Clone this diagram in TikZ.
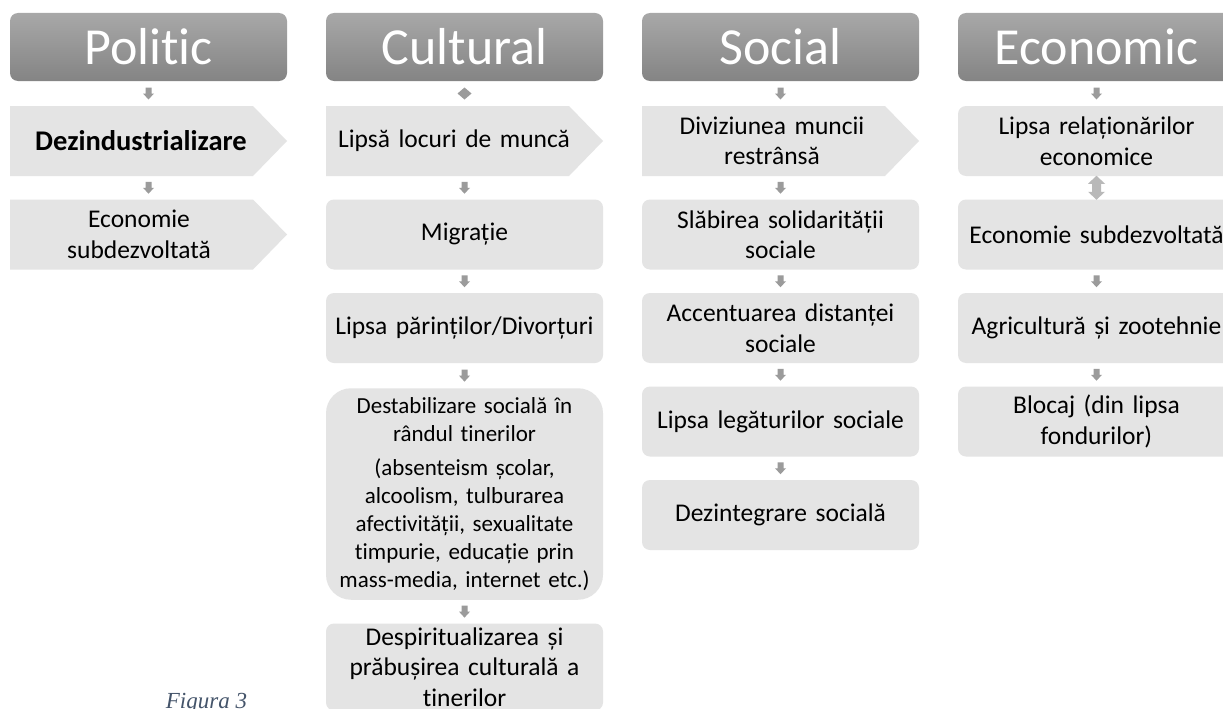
\documentclass[tikz,border=0pt]{standalone}
\usepackage{fontspec}
\setmainfont{Carlito}[RawFeature={-liga;-dlig;-clig;-calt}]
\newfontfamily\figfont{Liberation Serif}
\usetikzlibrary{calc}
\definecolor{boxgray}{RGB}{228,228,228}
\definecolor{hdtop}{RGB}{168,168,168}
\definecolor{hdbot}{RGB}{132,132,132}
\definecolor{arrgray}{RGB}{155,155,155}
\definecolor{arrlight}{RGB}{185,185,185}
\definecolor{figblue}{RGB}{68,84,106}
\tikzset{
 hdr/.style={rounded corners=8pt, top color=hdtop, bottom color=hdbot, text=white,
   font=\fontsize{52}{60}\selectfont, minimum width=277pt, minimum height=68pt, inner sep=0pt},
 rbox/.style={fill=boxgray, rounded corners=8pt, minimum width=277pt, minimum height=70pt,
   inner sep=0pt, text width=274pt, align=center, font=\fontsize{25.5}{30.5}\selectfont},
 ctxt/.style={minimum width=260pt, minimum height=70pt, inner sep=0pt, text width=258pt,
   align=center, font=\fontsize{25.5}{30.5}\selectfont},
 downarr/.pic={\fill[arrgray] (-3,-6) -- (3,-6) -- (3,0) -- (5.5,0) -- (0,6) -- (-5.5,0) -- (-3,0) -- cycle;},
 updownarr/.pic={\fill[arrlight] (0,-12) -- (8.5,-4) -- (4.5,-4) -- (4.5,4) -- (8.5,4) -- (0,12) -- (-8.5,4) -- (-4.5,4) -- (-4.5,-4) -- (-8.5,-4) -- cycle;},
 diamarr/.pic={\fill[arrgray] (0,-6) -- (7,0) -- (0,6) -- (-7,0) -- cycle;},
}
\newcommand\chevfill[2]{\fill[boxgray] (#1,#2) -- (#1+243,#2) -- (#1+277,#2+35) -- (#1+243,#2+70) -- (#1,#2+70) -- cycle;}
\newcommand\dn[3]{\path ($(#1.center |- #2.south)!0.5!(#1.center |- #3.north)$) pic {downarr};}
\newcommand\dnud[3]{\path ($(#1.center |- #2.south)!0.5!(#1.center |- #3.north)$) pic {updownarr};}
\newcommand\dndia[3]{\path ($(#1.center |- #2.south)!0.5!(#1.center |- #3.north)$) pic {diamarr};}
\begin{document}
\begin{tikzpicture}[x=1pt,y=-1pt]
\useasboundingbox (0,0) rectangle (1223,709);
\fill[white] (0,0) rectangle (1223,709);
\clip (0,0) rectangle (1223,709);

% headers
\node[hdr] (h1) at (148.5,47) {Politic};
\node[hdr] (h2) at (464.5,47) {Cultural};
\node[hdr] (h3) at (780.5,47) {Social};
\node[hdr] (h4) at (1096.5,47) {Economic};

% Politic
\chevfill{10}{106}
\node[ctxt, font=\fontsize{28.5}{33}\selectfont\bfseries] (p1) at (141,141) {Dezindustrializare};
\chevfill{10}{199.5}
\node[ctxt] (p2) at (139,234.5) {Economie\\subdezvoltată};

% Cultural
\chevfill{326}{106}
\node[ctxt] (c1) at (454,141) {Lipsă locuri de muncă};
\node[rbox] (c2) at (464.5,234.5) {Migrație};
\node[rbox] (c3) at (464.5,328) {Lipsa părinților/Divorțuri};
\node[rbox, minimum height=211.5pt, rounded corners=25pt, font=\fontsize{23}{28}\selectfont] (c4) at (464.5,494)
  {Destabilizare socială în\\rândul tinerilor\\[6pt](absenteism școlar,\\alcoolism, tulburarea\\afectivității, sexualitate\\timpurie, educație prin\\mass-media, internet etc.)};
\node[rbox, minimum height=87pt] (c5) at (464.5,667) {Despiritualizarea și\\prăbușirea culturală a\\tinerilor};

% Social
\chevfill{642}{106}
\node[ctxt] (s1) at (772,141) {Diviziunea muncii\\restrânsă};
\node[rbox] (s2) at (780.5,234.5) {Slăbirea solidarității\\sociale};
\node[rbox] (s3) at (780.5,328) {Accentuarea distanței\\sociale};
\node[rbox] (s4) at (780.5,421.5) {Lipsa legăturilor sociale};
\node[rbox] (s5) at (780.5,515) {Dezintegrare socială};

% Economic
\node[rbox] (e1) at (1096.5,141) {Lipsa relaționărilor\\economice};
\node[rbox] (e2) at (1096.5,234.5) {Economie subdezvoltată};
\node[rbox] (e3) at (1096.5,328) {Agricultură și zootehnie};
\node[rbox] (e4) at (1096.5,421.5) {Blocaj (din lipsa\\fondurilor)};

% connectors
\dn{h1}{h1}{p1}
\dn{h1}{p1}{p2}
\dndia{h2}{h2}{c1}
\dn{h2}{c1}{c2}
\dn{h2}{c2}{c3}
\dn{h2}{c3}{c4}
\dn{h2}{c4}{c5}
\dn{h3}{h3}{s1}
\dn{h3}{s1}{s2}
\dn{h3}{s2}{s3}
\dn{h3}{s3}{s4}
\dn{h3}{s4}{s5}
\dn{h4}{h4}{e1}
\dnud{h4}{e1}{e2}
\dn{h4}{e2}{e3}
\dn{h4}{e3}{e4}

% caption
\node[anchor=base, inner sep=0pt, text=figblue, font=\figfont\itshape\fontsize{23}{27}\selectfont] (fig) at (206.5,708) {Figura 3};
\end{tikzpicture}
\end{document}
